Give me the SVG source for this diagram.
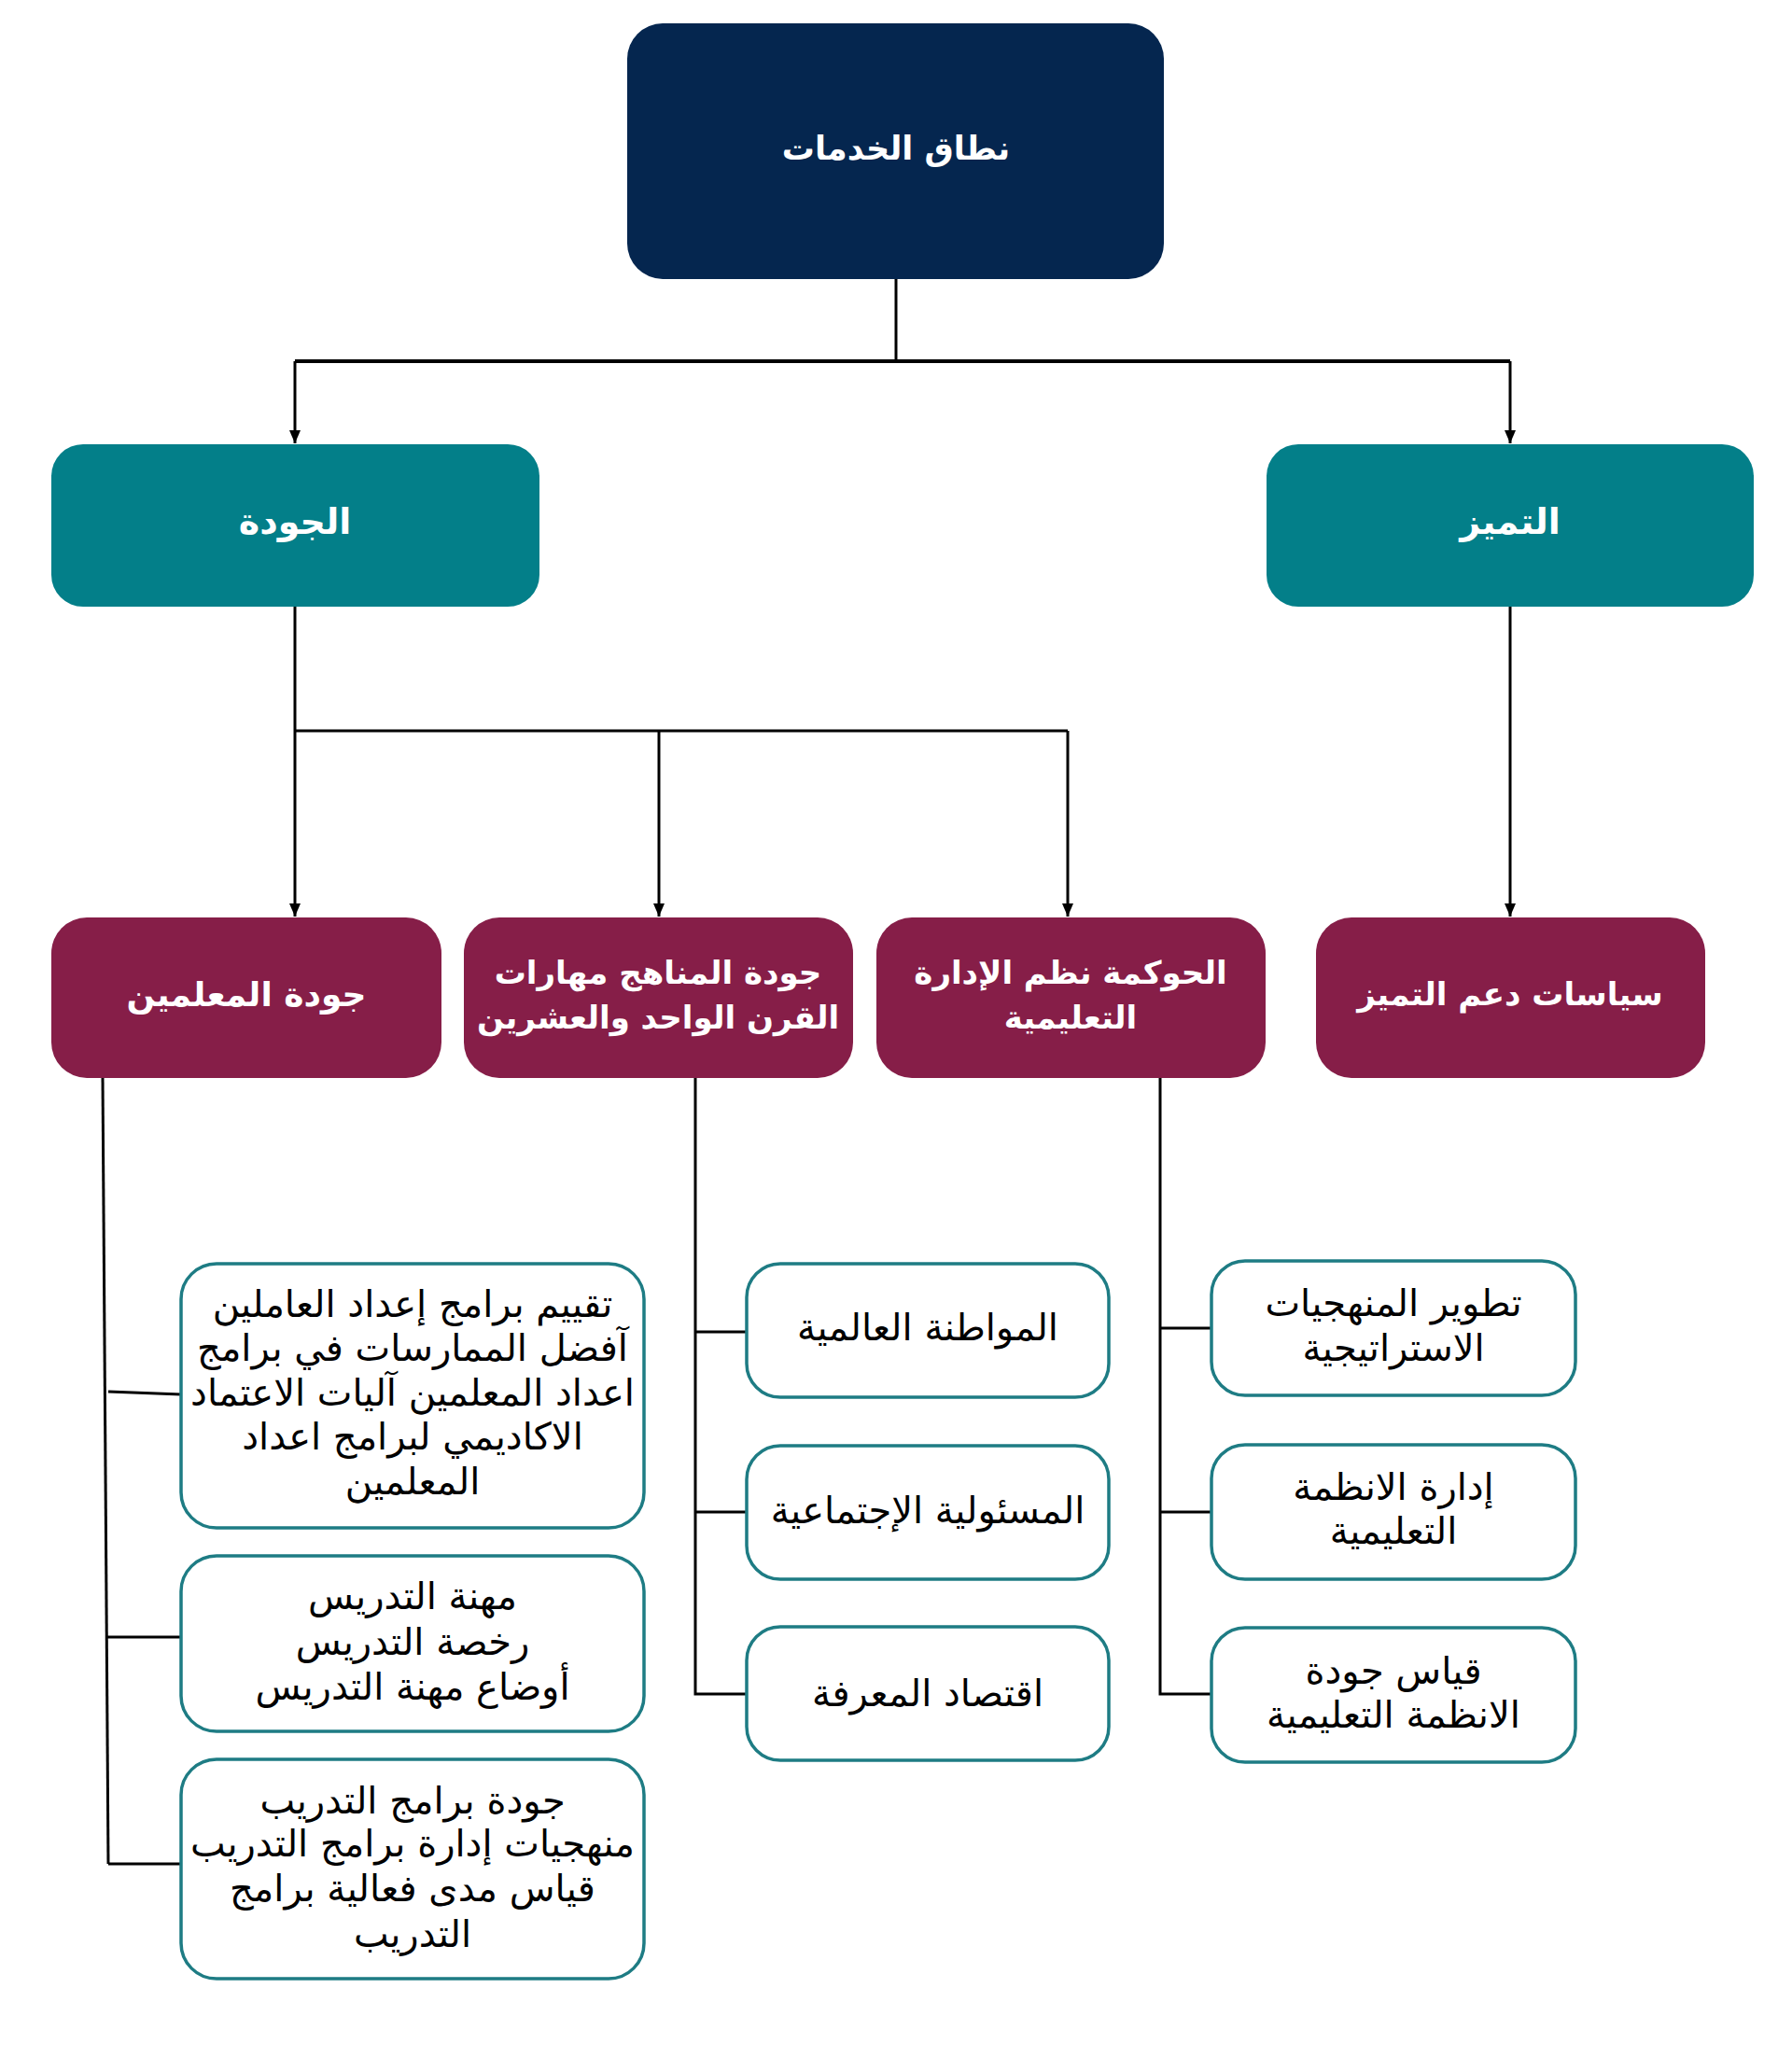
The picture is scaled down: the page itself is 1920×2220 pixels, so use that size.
<svg xmlns="http://www.w3.org/2000/svg" width="1920" height="2220" viewBox="0 0 1920 2220">
<style>
.t{font-family:"DejaVu Sans",sans-serif;text-anchor:middle;direction:rtl;dominant-baseline:central}
.w{fill:#ffffff}
.k{fill:#000000}
.root{fill:#05264F}
.teal{fill:#037F89}
.mar{fill:#861E48}
.leaf{fill:#ffffff;stroke:#1E7C84;stroke-width:3.5}
.ln{fill:none;stroke:#000;stroke-width:3}
.f0{font-size:35px;font-weight:bold}
.f1{font-size:38px;font-weight:bold}
.f2{font-size:34px;font-weight:bold}
.f3{font-size:40px}
</style>
<defs>
<marker id="ar" markerWidth="14" markerHeight="12" refX="14" refY="6" orient="auto" markerUnits="userSpaceOnUse" viewBox="0 0 14 12">
<path d="M0,0 L14,6 L0,12 Z" fill="#000"/>
</marker>
</defs>
<rect width="1920" height="2220" fill="#ffffff"/>
<g id="connectors">
<path class="ln" d="M960,299 V387"/>
<path class="ln" d="M316,387 H1618" style="stroke-width:4"/>
<path class="ln" d="M316,387 V475" marker-end="url(#ar)"/>
<path class="ln" d="M1618,387 V475" marker-end="url(#ar)"/>
<path class="ln" d="M316,650 V982" marker-end="url(#ar)"/>
<path class="ln" d="M316,783 H1144"/>
<path class="ln" d="M706,783 V982" marker-end="url(#ar)"/>
<path class="ln" d="M1144,783 V982" marker-end="url(#ar)"/>
<path class="ln" d="M1618,650 V982" marker-end="url(#ar)"/>
<path class="ln" d="M110,1155 L116,1997"/>
<path class="ln" d="M116,1491 L194,1494"/>
<path class="ln" d="M115,1754 H194"/>
<path class="ln" d="M116,1997 H194"/>
<path class="ln" d="M745,1155 V1815 H800"/>
<path class="ln" d="M745,1427 H800"/>
<path class="ln" d="M745,1620 H800"/>
<path class="ln" d="M1243,1155 V1815 H1298"/>
<path class="ln" d="M1243,1423 H1298"/>
<path class="ln" d="M1243,1620 H1298"/>
</g>
<g id="n-root">
<rect class="root" x="672" y="25" width="575" height="274" rx="38"/>
<text class="t w f0" x="960" y="159">نطاق الخدمات</text>
</g>
<g id="n-quality">
<rect class="teal" x="55" y="476" width="523" height="174" rx="34"/>
<text class="t w f1" x="316" y="559">الجودة</text>
</g>
<g id="n-excellence">
<rect class="teal" x="1357" y="476" width="522" height="174" rx="34"/>
<text class="t w f1" x="1618" y="559">التميز</text>
</g>
<g id="n-teachers">
<rect class="mar" x="55" y="983" width="418" height="172" rx="38"/>
<text class="t w f2" x="264" y="1065" style="font-size:36px">جودة المعلمين</text>
</g>
<g id="n-curricula">
<rect class="mar" x="497" y="983" width="417" height="172" rx="38"/>
<text class="t w f2" x="705" y="1042">جودة المناهج مهارات</text>
<text class="t w f2" x="705" y="1090">القرن الواحد والعشرين</text>
</g>
<g id="n-governance">
<rect class="mar" x="939" y="983" width="417" height="172" rx="38"/>
<text class="t w f2" x="1147" y="1042">الحوكمة نظم الإدارة</text>
<text class="t w f2" x="1147" y="1090">التعليمية</text>
</g>
<g id="n-policies">
<rect class="mar" x="1410" y="983" width="417" height="172" rx="38"/>
<text class="t w f2" x="1618" y="1065">سياسات دعم التميز</text>
</g>
<g id="n-a">
<rect class="leaf" x="194" y="1354" width="496" height="283" rx="38"/>
<text class="t k f3" x="442" y="1397">تقييم برامج إعداد العاملين</text>
<text class="t k f3" x="442" y="1444">آفضل الممارسات في برامج</text>
<text class="t k f3" x="442" y="1492">اعداد المعلمين آليات الاعتماد</text>
<text class="t k f3" x="442" y="1539">الاكاديمي لبرامج اعداد</text>
<text class="t k f3" x="442" y="1587">المعلمين</text>
</g>
<g id="n-b">
<rect class="leaf" x="194" y="1667" width="496" height="188" rx="38"/>
<text class="t k f3" x="442" y="1710">مهنة التدريس</text>
<text class="t k f3" x="442" y="1759">رخصة التدريس</text>
<text class="t k f3" x="442" y="1807">أوضاع مهنة التدريس</text>
</g>
<g id="n-c">
<rect class="leaf" x="194" y="1885" width="496" height="235" rx="38"/>
<text class="t k f3" x="442" y="1929">جودة برامج التدريب</text>
<text class="t k f3" x="442" y="1975">منهجيات إدارة برامج التدريب</text>
<text class="t k f3" x="442" y="2023">قياس مدى فعالية برامج</text>
<text class="t k f3" x="442" y="2072">التدريب</text>
</g>
<g id="n-m1">
<rect class="leaf" x="800" y="1354" width="388" height="143" rx="36"/>
<text class="t k f3" x="994" y="1422">المواطنة العالمية</text>
</g>
<g id="n-m2">
<rect class="leaf" x="800" y="1549" width="388" height="143" rx="36"/>
<text class="t k f3" x="994" y="1618">المسئولية الإجتماعية</text>
</g>
<g id="n-m3">
<rect class="leaf" x="800" y="1743" width="388" height="143" rx="36"/>
<text class="t k f3" x="994" y="1814">اقتصاد المعرفة</text>
</g>
<g id="n-r1">
<rect class="leaf" x="1298" y="1351" width="390" height="144" rx="36"/>
<text class="t k f3" x="1493" y="1396">تطوير المنهجيات</text>
<text class="t k f3" x="1493" y="1444">الاستراتيجية</text>
</g>
<g id="n-r2">
<rect class="leaf" x="1298" y="1548" width="390" height="144" rx="36"/>
<text class="t k f3" x="1493" y="1593">إدارة الانظمة</text>
<text class="t k f3" x="1493" y="1640">التعليمية</text>
</g>
<g id="n-r3">
<rect class="leaf" x="1298" y="1744" width="390" height="144" rx="36"/>
<text class="t k f3" x="1493" y="1790">قياس جودة</text>
<text class="t k f3" x="1493" y="1837">الانظمة التعليمية</text>
</g>
</svg>
